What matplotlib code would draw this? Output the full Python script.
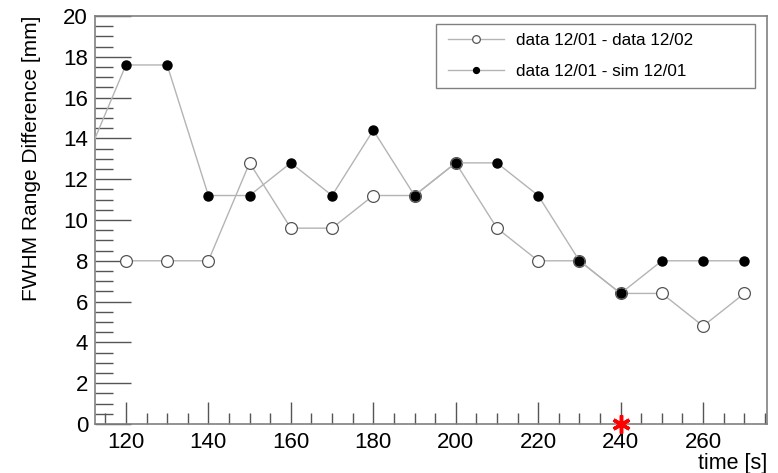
import matplotlib.pyplot as plt
from matplotlib.patches import Rectangle
from matplotlib.ticker import MultipleLocator

plt.rcParams['font.family'] = ['Liberation Sans', 'DejaVu Sans']

# time points and FWHM range differences [mm]
time_dd = [120, 130, 140, 150, 160, 170, 180, 190, 200, 210, 220, 230, 240, 250, 260, 270]
diff_dd = [8, 8, 8, 12.8, 9.6, 9.6, 11.2, 11.2, 12.8, 9.6, 8, 8, 6.4, 6.4, 4.8, 6.4]

time_ds = [110, 120, 130, 140, 150, 160, 170, 180, 190, 200, 210, 220, 230, 240, 250, 260, 270]
diff_ds = [12.8, 17.6, 17.6, 11.2, 11.2, 12.8, 11.2, 14.4, 11.2, 12.8, 12.8, 11.2, 8, 6.4, 8, 8, 8]

star_x = [240]
star_y = [0]

W, H = 778, 473
fig = plt.figure(figsize=(W / 100, H / 100), dpi=100)
ax = fig.add_axes([95 / W, 1 - 424 / H, 672 / W, 408 / H])

line_col = '#b4b4b4'
ax.plot(time_dd, diff_dd, '-o', color=line_col, lw=1, markersize=8.5,
        markerfacecolor='white', markeredgecolor='#555555', markeredgewidth=0.9,
        label='data 12/01 - data 12/02', zorder=3)
ax.plot(time_ds, diff_ds, '-o', color=line_col, lw=1, markersize=6.5,
        markerfacecolor='black', markeredgecolor='black',
        label='data 12/01 - sim 12/01', zorder=4)
ax.plot(star_x, star_y, linestyle='none', marker=(6, 2, 0), color='red',
        markersize=13, markeredgewidth=2.5, clip_on=False, zorder=5)

ax.set_xlim(112.5, 275.5)
ax.set_ylim(0, 20)
ax.xaxis.set_major_locator(MultipleLocator(20))
ax.xaxis.set_minor_locator(MultipleLocator(5))
ax.yaxis.set_major_locator(MultipleLocator(2))
ax.yaxis.set_minor_locator(MultipleLocator(0.5))

ax.tick_params(axis='both', which='both', direction='in', color='#555555',
               labelsize=16, top=False, right=False)
ax.tick_params(axis='x', which='major', length=16, width=1, pad=6)
ax.tick_params(axis='x', which='minor', length=8, width=1)
ax.tick_params(axis='y', which='major', length=26, width=1, pad=5)
ax.tick_params(axis='y', which='minor', length=13, width=1)

for s in ax.spines.values():
    s.set_color('#808080')
    s.set_linewidth(1.2)

ax.set_ylabel('FWHM Range Difference [mm]', fontsize=15, loc='top', labelpad=16)
ax.set_xlabel('time [s]', fontsize=15.5, loc='right')
ax.xaxis.set_label_coords(1.0, -0.071)

# legend: ROOT-style box, drawn by hand so it can be wider than the entries
box = Rectangle((436 / W, 1 - 88 / H), 319 / W, 64 / H,
                transform=fig.transFigure, facecolor='white',
                edgecolor='#808080', lw=1, zorder=10, clip_on=False)
ax.add_patch(box)
leg = ax.legend(loc='center left', bbox_to_anchor=(448 / W, 1 - 56 / H),
                bbox_transform=fig.transFigure, frameon=False,
                fontsize=12.3, handlelength=3.3, borderpad=0,
                labelspacing=0.95, handletextpad=0.7,
                borderaxespad=0, markerscale=0.65)
leg.set_zorder(11)

plt.savefig('out.png', dpi=100)
